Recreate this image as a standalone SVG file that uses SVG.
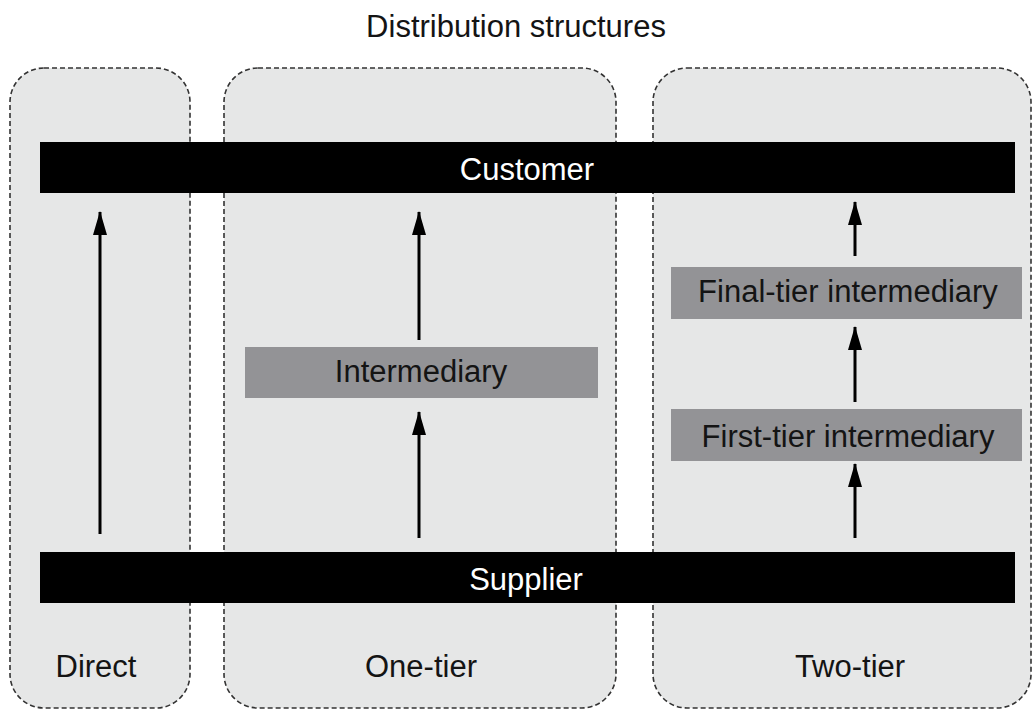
<svg xmlns="http://www.w3.org/2000/svg" width="1032" height="709" viewBox="0 0 1032 709">
  <style>
    .panel { fill: #e6e7e7; stroke: #333333; stroke-width: 1.6; stroke-dasharray: 5 3; }
    .bar { fill: #000000; }
    .mid { fill: #939396; }
    .t { font-family: "Liberation Sans", Arial, sans-serif; font-size: 31px; text-anchor: middle; fill: #141414; }
    .w { fill: #ffffff; }
    .conn line { stroke: #000000; stroke-width: 3; marker-end: url(#head); }
  </style>
  <defs>
    <!-- arrowhead drawn along +x, oriented with the line -->
    <marker id="head" viewBox="0 0 24 14" refX="23" refY="7" markerWidth="24" markerHeight="14" markerUnits="userSpaceOnUse" orient="auto">
      <path d="M0,0 L24,7 L0,14 Z" fill="#000000"/>
    </marker>
  </defs>
  <rect width="1032" height="709" fill="#ffffff"/>

  <text class="t" x="516" y="37">Distribution structures</text>

  <!-- channel panels -->
  <g id="direct">
    <rect class="panel" x="10" y="68" width="180" height="640" rx="34"/>
    <text class="t" x="96" y="677">Direct</text>
  </g>
  <g id="one-tier">
    <rect class="panel" x="224" y="68" width="392" height="640" rx="34"/>
    <text class="t" x="421" y="677">One-tier</text>
  </g>
  <g id="two-tier">
    <rect class="panel" x="653" y="68" width="378" height="640" rx="34"/>
    <text class="t" x="850" y="677">Two-tier</text>
  </g>

  <!-- end points -->
  <g id="customer">
    <rect class="bar" x="40" y="142" width="975" height="51"/>
    <text class="t w" x="527" y="180">Customer</text>
  </g>
  <g id="supplier">
    <rect class="bar" x="40" y="552" width="975" height="51"/>
    <text class="t w" x="526" y="590">Supplier</text>
  </g>

  <!-- intermediaries -->
  <g id="intermediary">
    <rect class="mid" x="245" y="347" width="353" height="51"/>
    <text class="t" x="421" y="382">Intermediary</text>
  </g>
  <g id="final-tier">
    <rect class="mid" x="671" y="267" width="351" height="52"/>
    <text class="t" x="848" y="302">Final-tier intermediary</text>
  </g>
  <g id="first-tier">
    <rect class="mid" x="671" y="409" width="351" height="52"/>
    <text class="t" x="848" y="447">First-tier intermediary</text>
  </g>

  <!-- flows from supplier to customer -->
  <g id="connectors" class="conn">
    <line x1="100" y1="534" x2="100" y2="212"/>
    <line x1="419" y1="340" x2="419" y2="212"/>
    <line x1="419" y1="538" x2="419" y2="412"/>
    <line x1="855" y1="256" x2="855" y2="202"/>
    <line x1="855" y1="402" x2="855" y2="327"/>
    <line x1="855" y1="538" x2="855" y2="464"/>
  </g>
</svg>
